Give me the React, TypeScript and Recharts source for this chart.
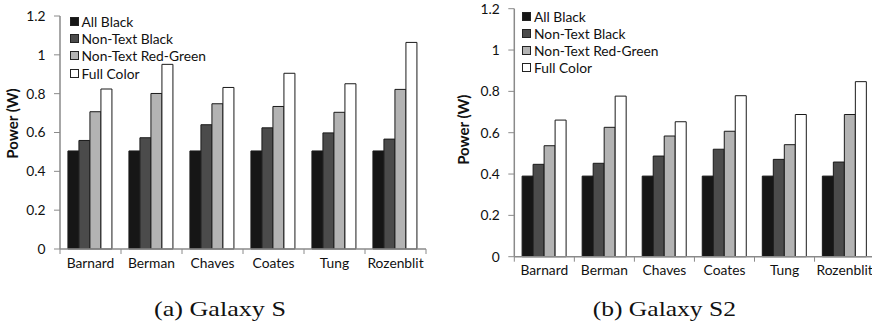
import React from 'react';
import { BarChart, Bar, XAxis, YAxis, Legend } from 'recharts';

const categories = ['Barnard', 'Berman', 'Chaves', 'Coates', 'Tung', 'Rozenblit'];
const seriesNames = ['All Black', 'Non-Text Black', 'Non-Text Red-Green', 'Full Color'];
const seriesColors = ['#161616', '#4b4b4b', '#b3b3b3', '#ffffff'];
const yTicks = [0, 0.2, 0.4, 0.6, 0.8, 1, 1.2];

// Galaxy S
const sAllBlack = [0.505, 0.505, 0.505, 0.505, 0.505, 0.505];
const sNonTextBlack = [0.559, 0.573, 0.64, 0.624, 0.598, 0.566];
const sRedGreen = [0.707, 0.801, 0.748, 0.734, 0.704, 0.822];
const sFullColor = [0.824, 0.951, 0.832, 0.905, 0.851, 1.064];

// Galaxy S2
const s2AllBlack = [0.39, 0.39, 0.39, 0.39, 0.39, 0.39];
const s2NonTextBlack = [0.447, 0.452, 0.487, 0.52, 0.471, 0.458];
const s2RedGreen = [0.537, 0.626, 0.584, 0.607, 0.542, 0.688];
const s2FullColor = [0.661, 0.777, 0.653, 0.779, 0.688, 0.847];

const captionA = '(a) Galaxy S';
const captionB = '(b) Galaxy S2';

const AXIS = '#8a8a8a';
const FONT = 'Lato, "Open Sans", sans-serif';
const FS = 13.8;
const KEYS = ['k0', 'k1', 'k2', 'k3'];

const build = (vals: number[][]) =>
  categories.map((name, i) => {
    const row: any = { name };
    vals.forEach((v, j) => (row[KEYS[j]] = v[i]));
    return row;
  });

const dataA = build([sAllBlack, sNonTextBlack, sRedGreen, sFullColor]);
const dataB = build([s2AllBlack, s2NonTextBlack, s2RedGreen, s2FullColor]);

const XTick = (props: any) => {
  const { x, y, payload, index, half, count } = props;
  return (
    <g>
      <line x1={x - half} y1={y} x2={x - half} y2={y + 5} stroke={AXIS} strokeWidth={1} />
      {index === count - 1 && (
        <line x1={x + half} y1={y} x2={x + half} y2={y + 5} stroke={AXIS} strokeWidth={1} />
      )}
      <text x={x} y={y + 18.5} textAnchor="middle" fontFamily={FONT} fontSize={FS} fill="#111">
        {payload.value}
      </text>
    </g>
  );
};

const LegendContent = (props: any) => {
  const payload = [...(props.payload || [])].sort(
    (a: any, b: any) => seriesNames.indexOf(a.value) - seriesNames.indexOf(b.value)
  );
  return (
    <div style={{ fontFamily: FONT, fontSize: FS, color: '#111' }}>
      {payload.map((p: any, i: number) => (
        <div key={i} style={{ display: 'flex', alignItems: 'center', height: 17.2, whiteSpace: 'nowrap' }}>
          <span
            style={{
              display: 'inline-block',
              width: 7,
              height: 7,
              background: p.color,
              border: '1px solid #222',
              marginRight: 3,
            }}
          />
          <span>{p.value}</span>
        </div>
      ))}
    </div>
  );
};

type PanelProps = {
  data: any[];
  width: number;
  height: number;
  margin: { top: number; right: number; bottom: number; left: number };
  yAxisWidth: number;
  xAxisHeight: number;
  legendPos: { left: number; top: number };
  labelDx: number;
  labelDy: number;
};

const Panel = ({ data, width, height, margin, yAxisWidth, xAxisHeight, legendPos, labelDx, labelDy }: PanelProps) => {
  const plotW = width - margin.left - margin.right - yAxisWidth;
  const half = plotW / categories.length / 2;
  return (
    <BarChart width={width} height={height} data={data} margin={margin} barCategoryGap="13%" barGap={0}>
      <XAxis
        dataKey="name"
        height={xAxisHeight}
        axisLine={{ stroke: AXIS, strokeWidth: 1.5 }}
        tickLine={false}
        tickSize={0}
        tickMargin={0}
        interval={0}
        tick={(p: any) => <XTick {...p} half={half} count={categories.length} />}
      />
      <XAxis xAxisId="t" dataKey="name" orientation="top" height={0} tick={false} tickLine={false} axisLine={{ stroke: AXIS, strokeWidth: 1.5 }} />
      <YAxis
        width={yAxisWidth}
        domain={[0, 1.2]}
        ticks={yTicks}
        interval={0}
        axisLine={{ stroke: AXIS, strokeWidth: 1.5 }}
        tickLine={{ stroke: AXIS }}
        tickSize={6}
        tickMargin={8.5}
        tick={{ fontFamily: FONT, fontSize: FS, fill: '#111' }}
        label={{
          content: (lp: any) => {
            const vb = lp.viewBox || {};
            const cx = vb.x + labelDx;
            const cy = vb.y + vb.height / 2 + labelDy;
            return (
              <text
                x={cx}
                y={cy}
                transform={`rotate(-90, ${cx}, ${cy})`}
                textAnchor="middle"
                dominantBaseline="central"
                fontFamily={FONT}
                fontWeight="bold"
                fontSize={15}
                fill="#111"
              >
                Power (W)
              </text>
            );
          },
        }}
      />
      <YAxis yAxisId="r" orientation="right" width={0} domain={[0, 1.2]} tick={false} tickLine={false} axisLine={{ stroke: AXIS, strokeWidth: 1.5 }} />
      <Legend
        layout="vertical"
        align="center"
        verticalAlign="middle"
        content={<LegendContent />}
        wrapperStyle={{ left: legendPos.left, top: legendPos.top, width: 'auto', height: 'auto' }}
      />
      {KEYS.map((k, j) => (
        <Bar
          key={k}
          dataKey={k}
          name={seriesNames[j]}
          fill={seriesColors[j]}
          stroke="#1a1a1a"
          strokeWidth={1}
          isAnimationActive={false}
        />
      ))}
    </BarChart>
  );
};

const CAPTION_FONT = '"Liberation Serif", "DejaVu Serif", serif';

export default function App() {
  return (
    <div style={{ position: 'absolute', left: 0, top: 0, width: 872, height: 322, overflow: 'hidden', background: '#fff' }}>
      <div style={{ position: 'absolute', left: 0, top: 0 }}>
        <Panel
          data={dataA}
          width={436}
          height={322}
          margin={{ top: 16, right: 10, bottom: 43, left: 0 }}
          yAxisWidth={60}
          xAxisHeight={30}
          legendPos={{ left: 69.5, top: 13 }}
          labelDx={12.3}
          labelDy={-9}
        />
      </div>
      <div style={{ position: 'absolute', left: 436, top: 0 }}>
        <Panel
          data={dataB}
          width={440}
          height={322}
          margin={{ top: 8.7, right: 1.4, bottom: 35.3, left: 0 }}
          yAxisWidth={78.3}
          xAxisHeight={30}
          legendPos={{ left: 86, top: 7.5 }}
          labelDx={26.7}
          labelDy={-3}
        />
      </div>
      <svg width={872} height={322} style={{ position: 'absolute', left: 0, top: 0, pointerEvents: 'none' }}>
        <text x={154} y={316} textLength={132} lengthAdjust="spacingAndGlyphs" fontFamily={CAPTION_FONT} fontSize={21} fill="#111">
          {captionA}
        </text>
        <text x={592.7} y={316} textLength={143.3} lengthAdjust="spacingAndGlyphs" fontFamily={CAPTION_FONT} fontSize={21} fill="#111">
          {captionB}
        </text>
      </svg>
    </div>
  );
}
